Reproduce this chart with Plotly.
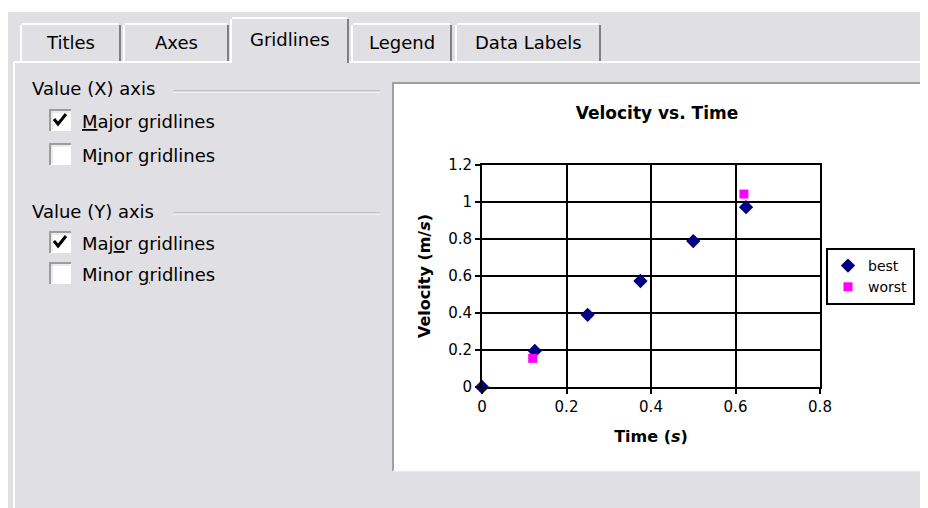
import plotly.graph_objects as go

# ---------------- data ----------------
best_time = [0, 0.125, 0.25, 0.375, 0.5, 0.625]
best_velocity = [0, 0.195, 0.39, 0.573, 0.789, 0.972]
worst_time = [0.12, 0.62]
worst_velocity = [0.155, 1.043]

x_ticks = [0, 0.2, 0.4, 0.6, 0.8]
y_ticks = [0, 0.2, 0.4, 0.6, 0.8, 1, 1.2]

tab_labels = ["Titles", "Axes", "Gridlines", "Legend", "Data Labels"]
selected_tab = "Gridlines"

# ---------------- geometry helpers (screen pixel -> paper) ----------------
W, H = 928, 508
OFF = 8                                       # page body margin in the browser
PL, PR, PT, PB = 482, 820, 165, 387          # plot area in screen pixels


def X(px):
    return (px - PL) / (PR - PL)


def Y(py):
    return (PB - py) / (PB - PT)


BG = "#E0DFE3"
DLG_FONT = "DejaVu Sans"
CH_FONT = "DejaVu Sans"

shapes = []
annotations = []


def rect(x0, y0, x1, y1, fill, line=None, lw=0, layer="below"):
    shapes.append(dict(type="rect", xref="paper", yref="paper",
                       x0=X(x0), x1=X(x1), y0=Y(y0), y1=Y(y1),
                       fillcolor=fill, line=dict(color=line or fill, width=lw),
                       layer=layer))


def hline(x0, x1, y, color, w=1, layer="below"):
    shapes.append(dict(type="line", xref="paper", yref="paper",
                       x0=X(x0), x1=X(x1), y0=Y(y), y1=Y(y),
                       line=dict(color=color, width=w), layer=layer))


def vline(x, y0, y1, color, w=1, layer="below"):
    shapes.append(dict(type="line", xref="paper", yref="paper",
                       x0=X(x), x1=X(x), y0=Y(y0), y1=Y(y1),
                       line=dict(color=color, width=w), layer=layer))


def text(px, py, s, size=18, anchor="left", color="black", family=DLG_FONT):
    annotations.append(dict(xref="paper", yref="paper", x=X(px), y=Y(py),
                            text=s, showarrow=False, xanchor=anchor,
                            yanchor="middle", borderpad=0,
                            font=dict(family=family, size=size, color=color)))


def ul(ch):
    return '<span style="text-decoration:underline">' + ch + '</span>'


# ---------------- dialog chrome ----------------
rect(-20, -20, W + 20, 12, "#FFFFFF")        # white strip at top
rect(-20, -20, 8, H + 20, "#F2F2F2")          # light strip at left
# panel border (white top/left)
hline(14, W + 20, 62, "#FFFFFF", 2)
vline(14, 62, H + 20, "#FFFFFF", 2)

tab_x = [(20, 121), (123, 229), (230, 349), (351, 452), (455, 601)]
for (x0, x1), lab in zip(tab_x, tab_labels):
    sel = lab == selected_tab
    top = 17 if sel else 23
    bot = 63 if sel else 61
    rect(x0, top, x1, bot, BG)
    vline(x0 + 1, top + 2, bot, "#FFFFFF", 2)
    hline(x0 + 2, x1 - 2, top + 1, "#FFFFFF", 2)
    vline(x1 - 1, top + 2, bot, "#808080", 2)
    if sel:
        hline(x0 + 2, x1 - 2, 62, BG, 3)
    text((x0 + x1) / 2, 39 if sel else 42, lab, size=18, anchor="center")

# group captions + separator lines
text(31, 89, "Value (X) axis")
hline(173, 380, 91, "#A0A0A0", 1)
hline(173, 380, 92, "#FFFFFF", 1)
text(31, 211, "Value (Y) axis")
hline(173, 380, 213, "#A0A0A0", 1)
hline(173, 380, 214, "#FFFFFF", 1)

checks = [
    (120, ul("M") + "ajor gridlines", True),
    (154, "M" + ul("i") + "nor gridlines", False),
    (242, "Maj" + ul("o") + "r gridlines", True),
    (273, "Minor " + ul("g") + "ridlines", False),
]
for cy, lab, checked in checks:
    rect(49, cy - 11, 71, cy + 11, "#FFFFFF")
    hline(49, 71, cy - 10, "#9D9D9D", 2)
    vline(50, cy - 11, cy + 11, "#9D9D9D", 2)
    hline(51, 70, cy - 8, "#D8D8D8", 1)
    vline(52, cy - 9, cy + 10, "#D8D8D8", 1)
    if checked:
        shapes.append(dict(type="path", xref="paper", yref="paper",
                           path="M {},{} L {},{} L {},{}".format(
                               X(54), Y(cy - 1), X(58), Y(cy + 4), X(66), Y(cy - 6)),
                           line=dict(color="black", width=3), layer="below"))
    text(81, cy + 1, lab)

# chart area (white, sunken border)
rect(393, 83, 921, 471, "#FFFFFF")
hline(392, 921, 83, "#A0A0A0", 2)
vline(393, 83, 471, "#A0A0A0", 2)
hline(393, 922, 471, "#F4F4F4", 1)
vline(921, 83, 471, "#F4F4F4", 1)

# ---------------- traces ----------------
fig = go.Figure()
fig.add_trace(go.Scatter(x=best_time, y=best_velocity, mode="markers", name="best",
                         marker=dict(symbol="diamond", size=11, color="#000080"),
                         cliponaxis=False))
fig.add_trace(go.Scatter(x=worst_time, y=worst_velocity, mode="markers", name="worst",
                         marker=dict(symbol="square", size=9, color="#FF00FF"),
                         cliponaxis=False))

axis_common = dict(showgrid=True, gridcolor="black", gridwidth=2,
                   zeroline=False, showline=True, linecolor="black", linewidth=2,
                   mirror=True, ticks="outside", ticklen=5, tickwidth=2,
                   tickcolor="black", automargin=False,
                   tickfont=dict(family=CH_FONT, size=15, color="black"))

fig.update_layout(
    width=W, height=H, autosize=False,
    margin=dict(l=PL - OFF, r=W - (PR - OFF), t=PT - OFF, b=H - (PB - OFF),
                pad=0, autoexpand=False),
    paper_bgcolor=BG, plot_bgcolor="#C0C0C0",
    shapes=shapes, annotations=annotations,
    title=dict(text="<b>Velocity vs. Time</b>", x=(657 - OFF) / W,
               y=1 - (113 - OFF) / H,
               xanchor="center", yanchor="middle", xref="container", yref="container",
               font=dict(family=CH_FONT, size=17, color="black")),
    xaxis=dict(range=[0, 0.8], tickvals=x_ticks,
               title=dict(text="<b>Time (<i>s</i>)</b>", standoff=16,
                          font=dict(family=CH_FONT, size=16, color="black")),
               **axis_common),
    yaxis=dict(range=[0, 1.2], tickvals=y_ticks,
               title=dict(text="<b>Velocity (m/<i>s</i>)</b>", standoff=14,
                          font=dict(family=CH_FONT, size=16, color="black")),
               **axis_common),
    legend=dict(x=X(826), y=Y(248), xanchor="left", yanchor="top",
                bgcolor="#FFFFFF", bordercolor="black", borderwidth=2,
                font=dict(family=CH_FONT, size=14, color="black"),
                itemwidth=30, tracegroupgap=0),
    showlegend=True,
)

fig.write_html("out.html")
